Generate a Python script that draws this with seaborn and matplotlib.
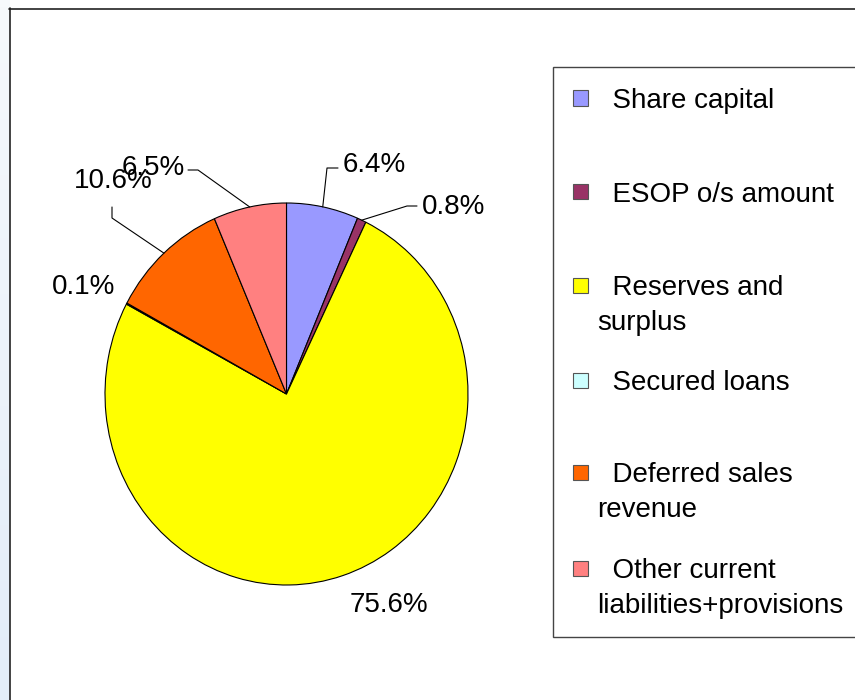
import numpy as np
import matplotlib
matplotlib.use("Agg")
import matplotlib.pyplot as plt
import seaborn as sns
from matplotlib.patches import Rectangle
from matplotlib.lines import Line2D

# data
categories = ["Share capital", "ESOP o/s amount", "Reserves and surplus",
              "Secured loans", "Deferred sales revenue",
              "Other current liabilities+provisions"]
legend_labels = ["Share capital", "ESOP o/s amount", "Reserves and\nsurplus",
                 "Secured loans", "Deferred sales\nrevenue",
                 "Other current\nliabilities+provisions"]
shares = [6.4, 0.8, 75.6, 0.1, 10.6, 6.5]
pie_colors = ["#9999FF", "#993366", "#FFFF00", "#CCFFFF", "#FF6600", "#FF8080"]

# label layout (pixels in the 855x700 picture)
label_pos = [(374, 165), (454, 207), (389, 605), (84, 287), (113, 181), (153, 168)]
leader_pts = [[(327, 168), (338, 168)], [(407, 206), (417, 206)], None, None,
              [(112, 218), (112, 207)], [(198, 170), (188, 170)]]
legend_rows = [98, 192, 285, 380, 472, 568]

W, H = 855, 700
cx, cy, rx, ry = 286.5, 394, 181.5, 191
FS = 20

sns.set_theme(style="white")
plt.rcParams['font.family'] = ['Liberation Sans', 'DejaVu Sans']
plt.rcParams['text.color'] = 'black'
palette = sns.color_palette(pie_colors)

fig = plt.figure(figsize=(W / 100, H / 100), dpi=100)
fig.patch.set_facecolor("white")

# pale blue strip at the left edge
strip = fig.add_axes([0, 0, 9 / W, 1])
grad = np.linspace(0, 1, 100).reshape(-1, 1)
strip.imshow(grad, aspect="auto", cmap=matplotlib.colors.LinearSegmentedColormap.from_list(
    "s", ["#F6F9FC", "#E3EDF8"]))
strip.axis("off")

# chart area border
fig.add_artist(Line2D([9.5 / W, 9.5 / W], [0, 1 - 8 / H], color="#222222", lw=1.2))
fig.add_artist(Line2D([9 / W, 1], [1 - 8.5 / H, 1 - 8.5 / H], color="#222222", lw=1.2))

ax = fig.add_axes([(cx - rx) / W, 1 - (cy + ry) / H, 2 * rx / W, 2 * ry / H])
wedges, _ = ax.pie(shares, colors=palette, startangle=90, counterclock=False,
                   wedgeprops=dict(edgecolor="black", linewidth=0.8))
ax.set_aspect("auto")
ax.set_xlim(-1, 1)
ax.set_ylim(-1, 1)


def to_data(p):
    return (p[0] - cx) / rx, (cy - p[1]) / ry


for w, val, lp, pts in zip(wedges, shares, label_pos, leader_pts):
    tx, ty = to_data(lp)
    ax.text(tx, ty, f"{val:.1f}%", ha="center", va="center", fontsize=FS,
            color="black", clip_on=False)
    if pts is not None:
        mid = np.deg2rad((w.theta1 + w.theta2) / 2)
        xs = [np.cos(mid)] + [to_data(p)[0] for p in pts]
        ys = [np.sin(mid)] + [to_data(p)[1] for p in pts]
        ax.plot(xs, ys, color="black", lw=0.8, clip_on=False)

# legend box
fig.add_artist(Rectangle((553 / W, 1 - 637 / H), (W + 5 - 553) / W, 570 / H,
                         transform=fig.transFigure, facecolor="white",
                         edgecolor="#444444", lw=1.0))
for col, lab, yrow in zip(palette, legend_labels, legend_rows):
    fig.add_artist(Rectangle((573 / W, 1 - (yrow + 7.5) / H), 15 / W, 15 / H,
                             transform=fig.transFigure, facecolor=col,
                             edgecolor="#555555", lw=0.8))
    for k, line in enumerate(lab.split("\n")):
        txt = "  " + line if k == 0 else line
        fig.text(597 / W, 1 - (yrow + 10 + 35 * k) / H, txt, ha="left",
                 va="baseline", fontsize=FS, color="black")

fig.savefig("out.png", dpi=100)
